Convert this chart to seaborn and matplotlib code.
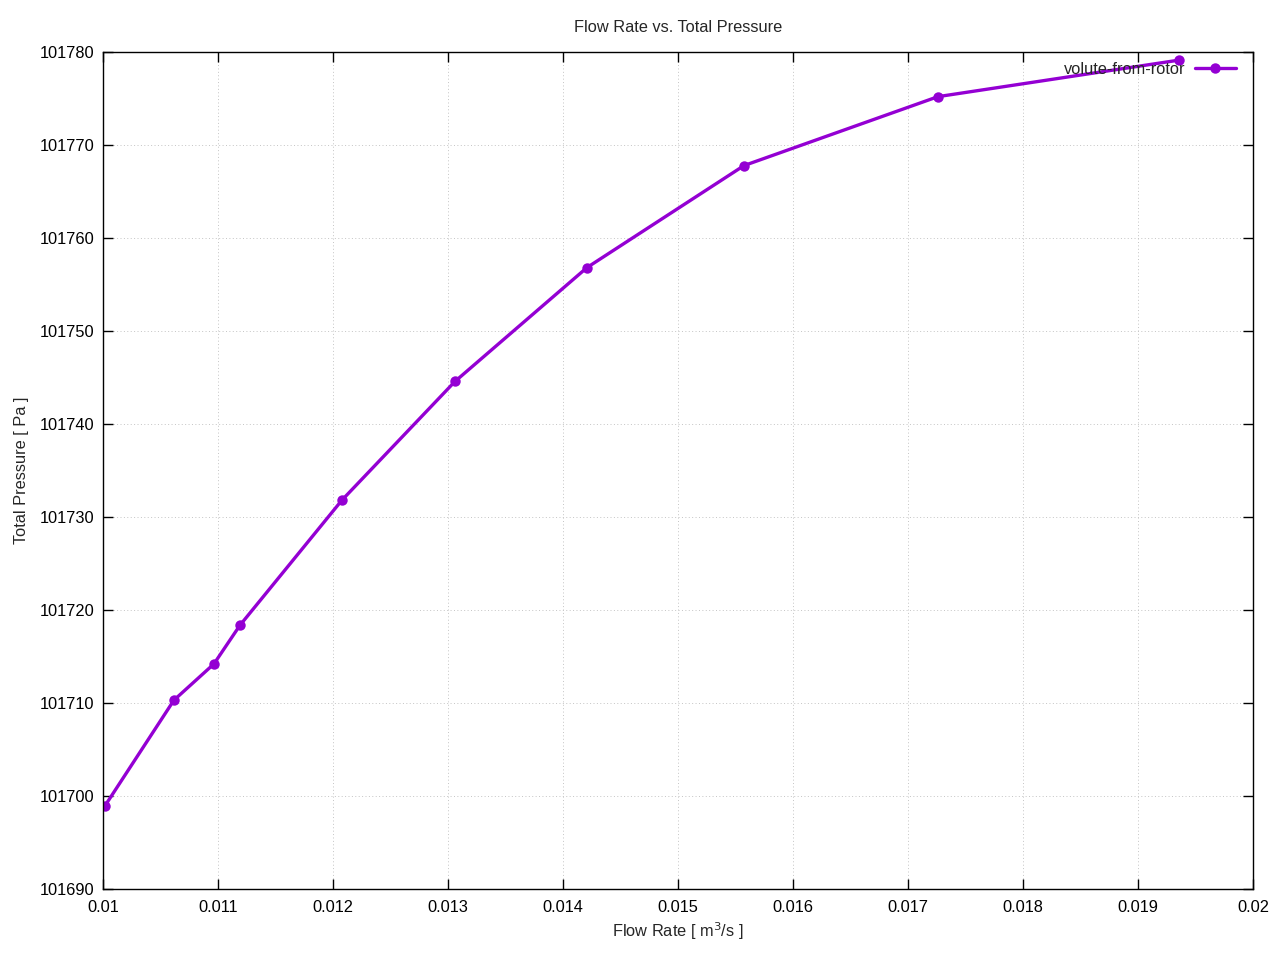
import matplotlib
matplotlib.use("Agg")
import matplotlib.pyplot as plt
import seaborn as sns
import pandas as pd
from matplotlib.ticker import MultipleLocator, FormatStrFormatter

flow_rate = [0.010015, 0.010617, 0.010965, 0.011191, 0.012078, 0.013061,
             0.014209, 0.015574, 0.017261, 0.019359]
total_pressure = [101698.9, 101710.3, 101714.2, 101718.35, 101731.8, 101744.56,
                  101756.8, 101767.76, 101775.17, 101779.1]
series_name = "volute-from-rotor"

df = pd.DataFrame({"x": flow_rate, "y": total_pressure, "s": series_name})

sns.set_style("white")
plt.rcParams['font.family'] = ['Liberation Sans', 'DejaVu Sans']

fig = plt.figure(figsize=(12.8, 9.6), dpi=100)
ax = fig.add_axes([103/1280, 1-889/960, (1253-103)/1280, (889-51.7)/960])

sns.lineplot(data=df, x="x", y="y", hue="s", palette=["#9400D3"], marker="o",
             markersize=7.5, markeredgewidth=0, linewidth=2.4, ax=ax, sort=False)

ax.set_xlim(0.01, 0.02)
ax.set_ylim(101690, 101780)
ax.xaxis.set_major_locator(MultipleLocator(0.001))
ax.yaxis.set_major_locator(MultipleLocator(10))
ax.xaxis.set_major_formatter(matplotlib.ticker.FuncFormatter(lambda v, p: ("%g" % round(v, 4))))
ax.yaxis.set_major_formatter(FormatStrFormatter("%d"))

ax.grid(True, linestyle=(0, (1, 2.5)), color="#c4c4c4", linewidth=0.7)
for sp in ax.spines.values():
    sp.set_color("black")
    sp.set_linewidth(1.0)
ax.tick_params(direction="in", length=7, width=1, top=True, right=True,
               bottom=True, left=True, labelsize=11.8, colors="black")
ax.tick_params(axis="x", pad=8)
ax.tick_params(axis="y", pad=6)

ax.set_xlabel("Flow Rate [ m$^3$/s ]", fontsize=11.8, labelpad=4)
ax.set_ylabel("Total Pressure [ Pa ]", fontsize=11.8, labelpad=8)
ax.set_title("Flow Rate vs. Total Pressure", fontsize=11.8, pad=14)

leg = ax.legend(loc="upper right", frameon=False, markerfirst=False,
                fontsize=11.8, handlelength=2.5, handletextpad=0.55,
                borderaxespad=0.2, bbox_to_anchor=(0.9935, 1.0))

fig.savefig("out.png", dpi=100)
